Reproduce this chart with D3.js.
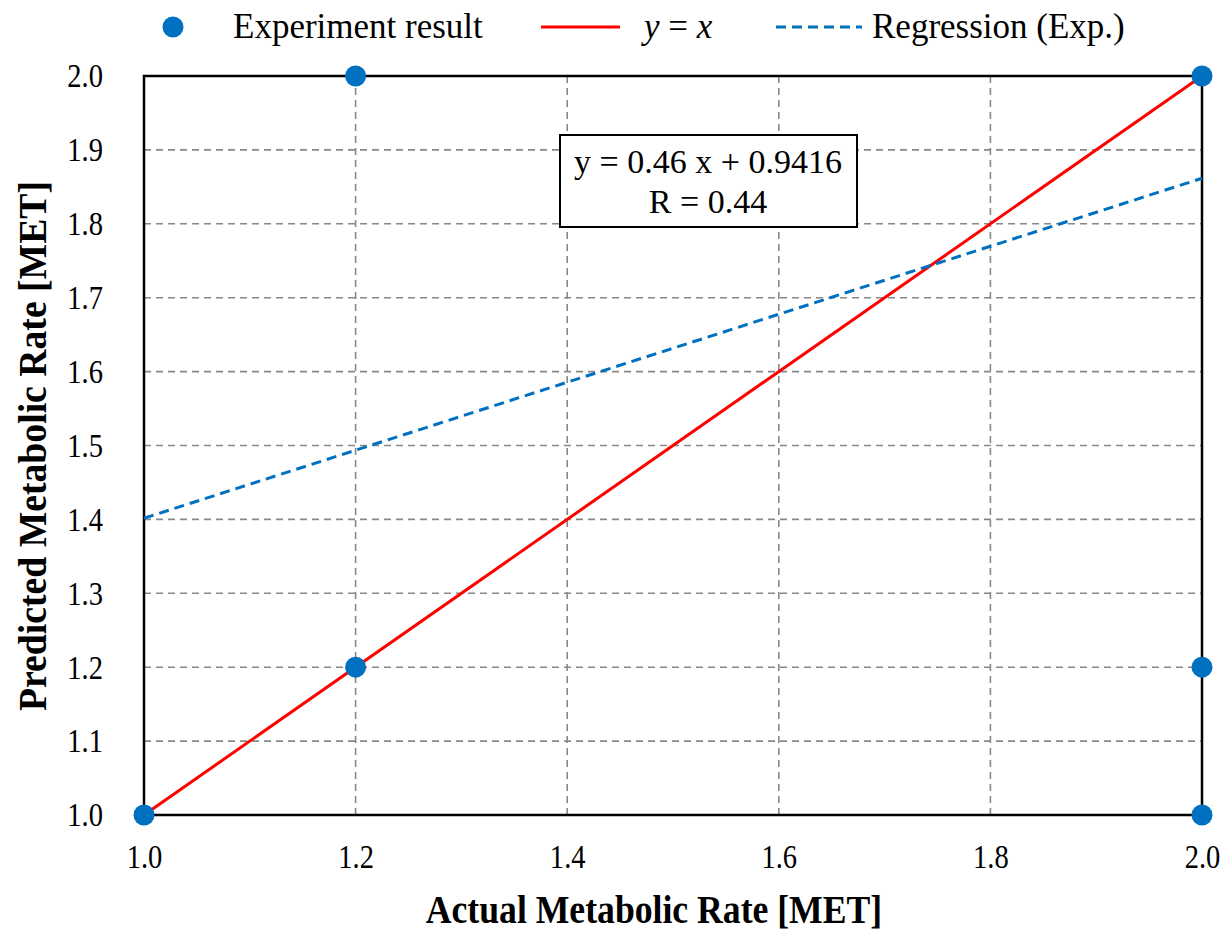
<!DOCTYPE html>
<html>
<head>
<meta charset="utf-8">
<script src="https://cdn.jsdelivr.net/npm/d3@7"></script>
<style>
  body { margin: 0; background: #fff; }
  text { font-family: "Liberation Serif", "Times New Roman", serif; fill: #000; }
</style>
</head>
<body>
<svg id="chart" width="1232" height="941"></svg>
<script>
// data
const actual = [1.0, 1.2, 1.2, 2.0, 2.0, 2.0];
const predicted = [1.0, 1.2, 2.0, 2.0, 1.2, 1.0];
const xTicks = [1.0, 1.2, 1.4, 1.6, 1.8, 2.0];
const yTicks = [1.0, 1.1, 1.2, 1.3, 1.4, 1.5, 1.6, 1.7, 1.8, 1.9, 2.0];
const regSlope = 0.46;
const regIntercept = 0.9416;
const regR = 0.44;

const blue = '#0070C0';
const red = '#FF0000';

const svg = d3.select('#chart');
const pLeft = 144, pRight = 1202, pTop = 76, pBottom = 815;

const x = d3.scaleLinear().domain([1, 2]).range([pLeft, pRight]);
const y = d3.scaleLinear().domain([1, 2]).range([pBottom, pTop]);

// grid
const grid = svg.append('g').attr('stroke', '#888').attr('stroke-width', 1.6).attr('stroke-dasharray', '7,5');
grid.selectAll('.gx').data(xTicks.slice(1, -1)).join('line').attr('class', 'gx')
  .attr('x1', d => x(d)).attr('x2', d => x(d)).attr('y1', pTop).attr('y2', pBottom);
grid.selectAll('.gy').data(yTicks.slice(1, -1)).join('line').attr('class', 'gy')
  .attr('y1', d => y(d)).attr('y2', d => y(d)).attr('x1', pLeft).attr('x2', pRight);

// frame
svg.append('rect').attr('x', pLeft).attr('y', pTop).attr('width', pRight - pLeft).attr('height', pBottom - pTop)
  .attr('fill', 'none').attr('stroke', '#000').attr('stroke-width', 2.5);

// axes (labels only) - the source font is a bit condensed, so squeeze horizontally
const squeeze = 0.84;
const xAxis = svg.append('g').attr('transform', `translate(0,${pBottom})`)
  .call(d3.axisBottom(x).tickValues(xTicks).tickFormat(d3.format('.1f')).tickSize(0).tickPadding(29));
const yAxis = svg.append('g').attr('transform', `translate(${pLeft},0)`)
  .call(d3.axisLeft(y).tickValues(yTicks).tickFormat(d3.format('.1f')).tickSize(0).tickPadding(41));
[xAxis, yAxis].forEach(a => {
  a.select('.domain').remove();
  a.selectAll('text').attr('font-size', 34).attr('fill', '#000')
    .attr('transform', `scale(${squeeze},1)`);
});
yAxis.selectAll('text').attr('x', -41 / squeeze);

// y = x
svg.append('line').attr('x1', x(1)).attr('y1', y(1)).attr('x2', x(2)).attr('y2', y(2))
  .attr('stroke', red).attr('stroke-width', 3);

// regression
svg.append('line').attr('x1', x(1)).attr('y1', y(regSlope * 1 + regIntercept))
  .attr('x2', x(2)).attr('y2', y(regSlope * 2 + regIntercept))
  .attr('stroke', blue).attr('stroke-width', 3).attr('stroke-dasharray', '10,6');

// points
svg.append('g').selectAll('circle').data(actual).join('circle')
  .attr('cx', d => x(d)).attr('cy', (d, i) => y(predicted[i])).attr('r', 10.5).attr('fill', blue);

// equation box
const box = svg.append('g');
box.append('rect').attr('x', 560).attr('y', 135).attr('width', 297).attr('height', 92)
  .attr('fill', '#fff').attr('stroke', '#000').attr('stroke-width', 2);
box.append('text').attr('x', 708).attr('y', 173).attr('text-anchor', 'middle').attr('font-size', 34)
  .text(`y = ${regSlope} x + ${regIntercept}`);
box.append('text').attr('x', 708).attr('y', 213).attr('text-anchor', 'middle').attr('font-size', 34)
  .text(`R = ${regR}`);

// axis titles
svg.append('text').attr('transform', 'translate(654,923) scale(0.87,1)').attr('text-anchor', 'middle')
  .attr('font-size', 41).attr('font-weight', 'bold').text('Actual Metabolic Rate [MET]');
svg.append('text').attr('transform', 'translate(46,446) rotate(-90) scale(0.92,1)').attr('text-anchor', 'middle')
  .attr('font-size', 41).attr('font-weight', 'bold').text('Predicted Metabolic Rate [MET]');

// legend
const lg = svg.append('g');
lg.append('circle').attr('cx', 173).attr('cy', 27).attr('r', 10.5).attr('fill', blue);
lg.append('text').attr('x', 233).attr('y', 38).attr('font-size', 35).text('Experiment result');
lg.append('line').attr('x1', 541).attr('x2', 620).attr('y1', 27).attr('y2', 27).attr('stroke', red).attr('stroke-width', 3);
const yx = lg.append('text').attr('x', 644).attr('y', 38).attr('font-size', 35);
yx.append('tspan').attr('font-style', 'italic').text('y');
yx.append('tspan').text(' = ');
yx.append('tspan').attr('font-style', 'italic').text('x');
lg.append('line').attr('x1', 776).attr('x2', 862).attr('y1', 27).attr('y2', 27).attr('stroke', blue)
  .attr('stroke-width', 3).attr('stroke-dasharray', '10,6');
lg.append('text').attr('x', 872).attr('y', 38).attr('font-size', 35).text('Regression (Exp.)');
</script>
</body>
</html>
